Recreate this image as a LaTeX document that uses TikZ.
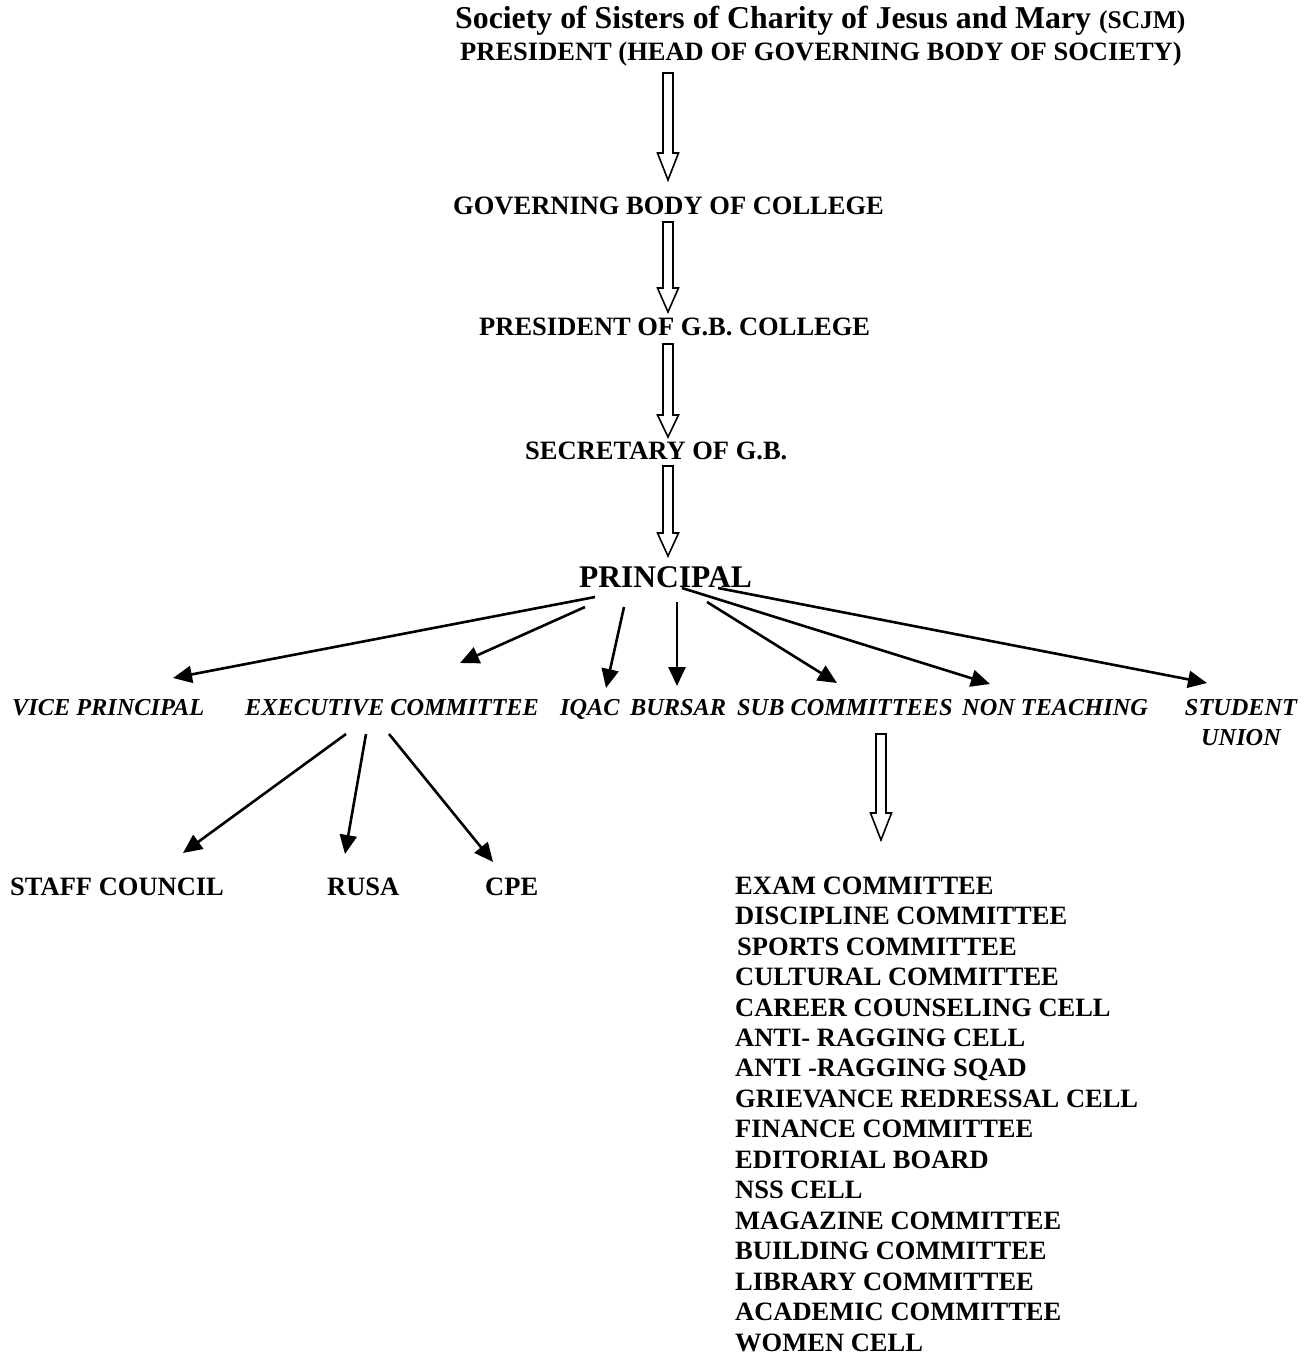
\documentclass[tikz,border=0pt]{standalone}
\usepackage{fontspec}
\setmainfont{Liberation Serif}
\usetikzlibrary{arrows.meta}
\tikzset{
  lbl/.style={inner sep=0pt, anchor=base west, font=\bfseries\fontsize{26.5}{30.45}\selectfont},
  ilbl/.style={inner sep=0pt, anchor=base west, font=\bfseries\itshape\fontsize{24.3}{30}\selectfont},
  arr/.style={line width=2.6pt, -{Triangle[length=19pt,width=17pt]}},
  hollow/.style={draw=black, line width=1.6pt, fill=white, line join=miter},
}
\newcommand\hollowarr[4]{%
  \draw[hollow] (#1-5,#2) -- (#1+5,#2) -- (#1+5,#3) -- (#1+10.5,#3) -- (#1,#4) -- (#1-10.5,#3) -- (#1-5,#3) -- cycle;}
\begin{document}
\begin{tikzpicture}[x=1pt,y=-1pt]
\useasboundingbox (0,0) rectangle (1303,1356);
% header
\node[lbl, font=\bfseries\fontsize{31.8}{34}\selectfont] (title) at (455,29) {Society of Sisters of Charity of Jesus and Mary \fontsize{25.5}{30}\selectfont(SCJM)};
\node[lbl] (pres) at (460,61) {PRESIDENT (HEAD OF GOVERNING BODY OF SOCIETY)};
\hollowarr{668}{73}{153}{180}
\node[lbl] (gb) at (453,215) {GOVERNING BODY OF COLLEGE};
\hollowarr{668}{222}{288}{312}
\node[lbl] (presgb) at (479,335) {PRESIDENT OF G.B. COLLEGE};
\hollowarr{668}{344}{415}{437}
\node[lbl] (sec) at (525,459) {SECRETARY OF G.B.};
\hollowarr{668}{466}{533}{556}
\node[lbl, font=\bfseries\fontsize{31.5}{34}\selectfont] (prin) at (579,587) {PRINCIPAL};
% level row
\node[ilbl] (vp) at (12,715) {VICE PRINCIPAL};
\node[ilbl] (exec) at (245,715) {EXECUTIVE COMMITTEE};
\node[ilbl] (iqac) at (560,715) {IQAC};
\node[ilbl] (bursar) at (630,715) {BURSAR};
\node[ilbl] (sub) at (737,715) {SUB COMMITTEES};
\node[ilbl] (nt) at (962,715) {NON TEACHING};
\node[ilbl, anchor=base, align=center] (su) at (1241,745) {STUDENT\\UNION};
% arrows from principal
\draw[arr] (595,597) -- (173,678);
\draw[arr] (585,607) -- (460,663);
\draw[arr] (624,607) -- (606,688);
\draw[arr] (677,602) -- (677,686);
\draw[arr] (707,602) -- (837,683);
\draw[arr] (682,588) -- (990,684);
\draw[arr] (718,588) -- (1207,683);
% executive committee
\draw[arr] (346,734) -- (183,853);
\draw[arr] (366,734) -- (345,854);
\draw[arr] (389,734) -- (493,862);
\node[lbl] (staff) at (10,895) {STAFF COUNCIL};
\node[lbl] (rusa) at (327,895) {RUSA};
\node[lbl] (cpe) at (485,895) {CPE};
% sub committees
\hollowarr{881}{734}{813}{840}
\node[lbl, align=left] (list) at (735,1351) {EXAM COMMITTEE\\
DISCIPLINE COMMITTEE\\
\hspace*{2pt}SPORTS COMMITTEE\\
CULTURAL COMMITTEE\\
CAREER COUNSELING CELL\\
ANTI- RAGGING CELL\\
ANTI -RAGGING SQAD\\
GRIEVANCE REDRESSAL CELL\\
FINANCE COMMITTEE\\
EDITORIAL BOARD\\
NSS CELL\\
MAGAZINE COMMITTEE\\
BUILDING COMMITTEE\\
LIBRARY COMMITTEE\\
ACADEMIC COMMITTEE\\
WOMEN CELL};
\end{tikzpicture}
\end{document}
